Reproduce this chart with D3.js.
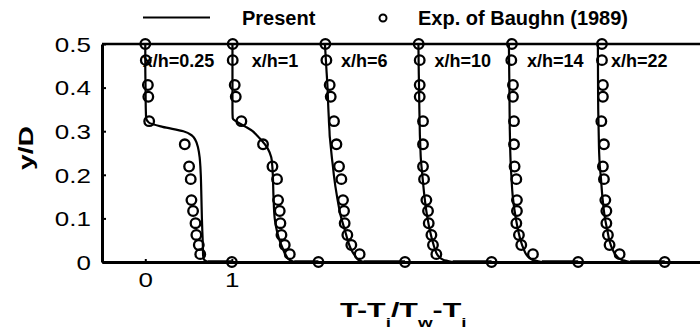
<!DOCTYPE html>
<html>
<head>
<meta charset="utf-8">
<script src="https://cdn.jsdelivr.net/npm/d3@7"></script>
<style>
  body { margin: 0; background: #fff; }
  svg { display: block; font-family: "Liberation Sans", Arial, sans-serif; }
</style>
</head>
<body>
<div id="chart"></div>
<script>
// station labels (x/h), one profile per station, each shifted by 1 unit on the x axis
const stations = ["0.25", "1", "6", "10", "14", "22"];

// experimental points (Baughn 1989): shared y/D levels, last one is the wall
const yExp = [0.5, 0.463, 0.406, 0.379, 0.323, 0.27, 0.219, 0.19, 0.142, 0.117, 0.089, 0.062, 0.039, 0.018, 0];
const thetaExp = [
  [0, 0.006, 0.03, 0.035, 0.045, 0.456, 0.506, 0.525, 0.533, 0.552, 0.58, 0.59, 0.618, 0.635, 1],
  [0.01, 0.01, 0.033, 0.045, 0.11, 0.36, 0.469, 0.522, 0.534, 0.553, 0.561, 0.573, 0.611, 0.669, 1],
  [0.08, 0.092, 0.13, 0.142, 0.18, 0.208, 0.238, 0.265, 0.284, 0.296, 0.303, 0.334, 0.38, 0.476, 1],
  [0.158, 0.17, 0.17, 0.17, 0.208, 0.208, 0.208, 0.22, 0.247, 0.266, 0.274, 0.305, 0.323, 0.362, 1],
  [0.235, 0.228, 0.247, 0.247, 0.259, 0.259, 0.266, 0.286, 0.293, 0.293, 0.286, 0.316, 0.343, 0.478, 1],
  [0.275, 0.275, 0.286, 0.286, 0.268, 0.298, 0.286, 0.298, 0.314, 0.326, 0.326, 0.344, 0.363, 0.479, 1]
];

// present computation: shared y/D levels
const yLine = [0.5, 0.45, 0.4, 0.35, 0.33, 0.32, 0.31, 0.3, 0.29, 0.28, 0.26, 0.24, 0.22, 0.2, 0.15, 0.1, 0.07, 0.05, 0.03, 0.015, 0.005, 0];
const thetaLine = [
  [0, 0, 0.003, 0.006, 0.01, 0.04, 0.2, 0.44, 0.54, 0.578, 0.612, 0.628, 0.636, 0.641, 0.648, 0.654, 0.659, 0.663, 0.666, 0.668, 0.68, 0.72],
  [0.007, 0.007, 0.007, 0.007, 0.01, 0.07, 0.16, 0.24, 0.29, 0.34, 0.415, 0.455, 0.467, 0.473, 0.481, 0.495, 0.522, 0.55, 0.59, 0.625, 0.665, 0.72],
  [0.075, 0.09, 0.105, 0.115, 0.12, 0.122, 0.125, 0.128, 0.13, 0.135, 0.145, 0.155, 0.167, 0.178, 0.215, 0.265, 0.31, 0.338, 0.375, 0.42, 0.46, 0.52],
  [0.155, 0.158, 0.162, 0.166, 0.168, 0.169, 0.17, 0.171, 0.172, 0.174, 0.178, 0.182, 0.19, 0.2, 0.225, 0.26, 0.29, 0.315, 0.345, 0.38, 0.44, 0.55],
  [0.2, 0.203, 0.206, 0.208, 0.209, 0.21, 0.21, 0.211, 0.212, 0.213, 0.215, 0.218, 0.222, 0.228, 0.245, 0.28, 0.31, 0.335, 0.37, 0.41, 0.47, 0.58],
  [0.228, 0.229, 0.23, 0.232, 0.234, 0.235, 0.236, 0.237, 0.238, 0.239, 0.241, 0.245, 0.25, 0.26, 0.28, 0.31, 0.34, 0.36, 0.395, 0.44, 0.5, 0.6]
];

const yTicks = [0, 0.1, 0.2, 0.3, 0.4, 0.5];
const xTicks = [0, 1];

const WIDTH = 700;
const HEIGHT = 336;
// where each x/h label starts, in x units
const LABEL_X = [-0.03, 1.23, 2.26, 3.34, 4.41, 5.38];

const svg = d3.select("#chart").append("svg")
  .attr("width", WIDTH)
  .attr("height", HEIGHT);

svg.append("rect").attr("width", WIDTH).attr("height", HEIGHT).attr("fill", "#fff");

const x = d3.scaleLinear().domain([-0.5, 6.5]).range([102, 708]);
const y = d3.scaleLinear().domain([0, 0.5]).range([262, 44]);

// profiles
const line = d3.line()
  .x((d) => x(d[0]))
  .y((d) => y(d[1]))
  .curve(d3.curveMonotoneY);

thetaLine.forEach((arr, i) => {
  const pts = arr.map((t, j) => [i + t, yLine[j]]);
  svg.append("path")
    .attr("d", line(pts))
    .attr("fill", "none")
    .attr("stroke", "#000")
    .attr("stroke-width", 2.2);
  // flat tail along the wall up to theta = 1
  svg.append("line")
    .attr("x1", x(i + arr[arr.length - 1])).attr("x2", x(i + 1))
    .attr("y1", y(0) - 1).attr("y2", y(0) - 1)
    .attr("stroke", "#000").attr("stroke-width", 1.5);
});

// axes
const yAxis = svg.append("g")
  .attr("transform", `translate(${x(-0.5)},0)`)
  .call(d3.axisLeft(y).tickValues(yTicks).tickSizeInner(-4).tickSizeOuter(0)
    .tickFormat((d) => (d === 0 ? "0" : d3.format(".1f")(d))));
yAxis.select(".domain").attr("stroke-width", 3);
yAxis.selectAll(".tick line").attr("stroke-width", 2);
yAxis.selectAll("text")
  .attr("x", -8.5)
  .attr("dy", "0.36em")
  .attr("font-size", 20)
  .attr("font-family", "Liberation Sans, Arial, sans-serif")
  .attr("transform", "scale(1.3,1)");

const xAxis = svg.append("g")
  .attr("transform", `translate(0,${y(0)})`)
  .call(d3.axisBottom(x).tickValues(xTicks).tickSizeInner(-3).tickSizeOuter(0)
    .tickFormat(d3.format("d")));
xAxis.select(".domain").attr("stroke-width", 3);
xAxis.selectAll(".tick line").attr("stroke-width", 2);
xAxis.selectAll("text")
  .attr("y", 25)
  .attr("dy", null)
  .attr("font-size", 20)
  .attr("font-family", "Liberation Sans, Arial, sans-serif")
  .attr("transform", "scale(1.3,1)");

// top border
svg.append("line")
  .attr("x1", x(-0.5)).attr("x2", WIDTH)
  .attr("y1", y(0.5)).attr("y2", y(0.5))
  .attr("stroke", "#000").attr("stroke-width", 2.5);

// experimental circles
thetaExp.forEach((arr, i) => {
  svg.append("g").selectAll("circle")
    .data(arr.map((t, j) => [i + t, yExp[j]]))
    .join("circle")
    .attr("cx", (d) => x(d[0]))
    .attr("cy", (d) => y(d[1]))
    .attr("r", 4.8)
    .attr("fill", "none")
    .attr("stroke", "#000")
    .attr("stroke-width", 2.3);
});

// station labels
svg.append("g").selectAll("text")
  .data(stations)
  .join("text")
  .attr("x", (d, i) => x(LABEL_X[i]))
  .attr("y", 67)
  .attr("font-size", 18)
  .attr("font-weight", "bold")
  .text((d) => `x/h=${d}`);

// legend
const legend = svg.append("g");
legend.append("line")
  .attr("x1", 143).attr("x2", 210).attr("y1", 17.5).attr("y2", 17.5)
  .attr("stroke", "#000").attr("stroke-width", 2);
legend.append("text")
  .attr("x", 242).attr("y", 25)
  .attr("font-size", 20).attr("font-weight", "bold")
  .text("Present");
legend.append("circle")
  .attr("cx", 383).attr("cy", 18).attr("r", 3.5)
  .attr("fill", "none").attr("stroke", "#000").attr("stroke-width", 2);
legend.append("text")
  .attr("x", 418).attr("y", 25)
  .attr("font-size", 20).attr("font-weight", "bold")
  .text("Exp. of Baughn (1989)");

// axis titles
svg.append("text")
  .attr("transform", "translate(33,148) rotate(-90) scale(1.35,1)")
  .attr("text-anchor", "middle")
  .attr("font-size", 21)
  .attr("font-weight", "bold")
  .text("y/D");

const xt = svg.append("text")
  .attr("transform", "translate(340,317) scale(1.45,1)")
  .attr("font-size", 21)
  .attr("font-weight", "bold");
xt.append("tspan").text("T-T");
xt.append("tspan").attr("dy", 10).attr("font-size", 13).text("i");
xt.append("tspan").attr("dy", -10).text("/T");
xt.append("tspan").attr("dy", 10).attr("font-size", 13).text("w");
xt.append("tspan").attr("dy", -10).text("-T");
xt.append("tspan").attr("dy", 10).attr("font-size", 13).text("i");
</script>
</body>
</html>
